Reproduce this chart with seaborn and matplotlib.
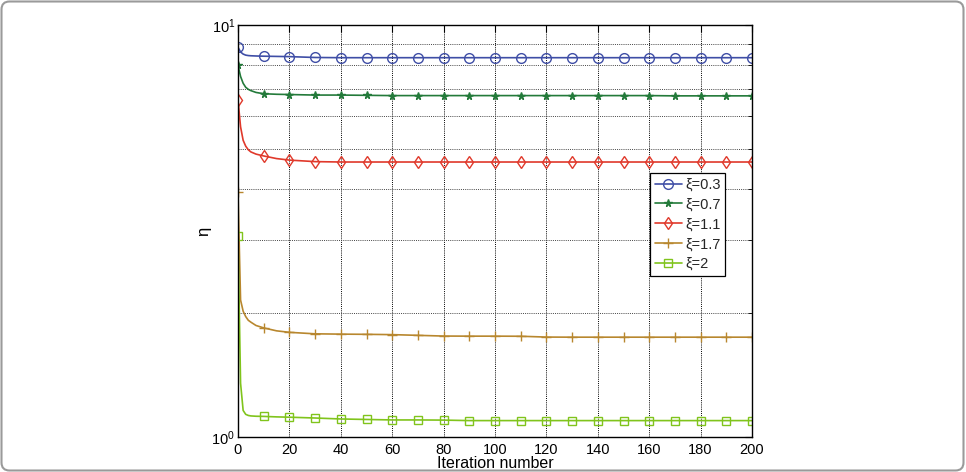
import numpy as np
import pandas as pd
import matplotlib
matplotlib.use("Agg")
import matplotlib.pyplot as plt
import seaborn as sns
from matplotlib.patches import FancyBboxPatch
from matplotlib.transforms import IdentityTransform
from matplotlib.ticker import FixedLocator, LogLocator, NullFormatter

# ---- data ----
iterations = [0, 1, 2, 3, 4, 5, 7, 10, 15, 20, 30, 40, 50, 60, 70, 80, 90, 100,
              110, 120, 130, 140, 150, 160, 170, 180, 190, 200]

eta_xi03 = [8.83, 8.60, 8.50, 8.45, 8.43, 8.42, 8.41, 8.40, 8.39, 8.38, 8.34, 8.33,
            8.33, 8.33, 8.33, 8.33, 8.33, 8.33, 8.33, 8.33, 8.33, 8.33, 8.33, 8.33,
            8.33, 8.33, 8.33, 8.33]
eta_xi07 = [7.98, 7.50, 7.22, 7.06, 6.98, 6.93, 6.86, 6.81, 6.79, 6.78, 6.76, 6.76,
            6.75, 6.74, 6.74, 6.74, 6.74, 6.74, 6.74, 6.74, 6.74, 6.74, 6.74, 6.74,
            6.73, 6.73, 6.73, 6.73]
eta_xi11 = [6.58, 5.66, 5.25, 5.08, 4.98, 4.92, 4.86, 4.81, 4.74, 4.70, 4.66, 4.65,
            4.65, 4.65, 4.65, 4.65, 4.65, 4.65, 4.65, 4.65, 4.65, 4.65, 4.65, 4.65,
            4.65, 4.65, 4.65, 4.65]
eta_xi17 = [3.93, 2.15, 2.02, 1.96, 1.92, 1.90, 1.865, 1.84, 1.81, 1.795, 1.78, 1.777,
            1.775, 1.772, 1.765, 1.758, 1.757, 1.757, 1.756, 1.748, 1.747, 1.747,
            1.747, 1.747, 1.747, 1.747, 1.747, 1.747]
eta_xi2 = [3.07, 1.35, 1.16, 1.135, 1.128, 1.125, 1.123, 1.122, 1.119, 1.117, 1.112,
           1.106, 1.103, 1.100, 1.100, 1.099, 1.096, 1.096, 1.096, 1.096, 1.096, 1.096,
           1.096, 1.096, 1.096, 1.096, 1.096, 1.096]

labels = ["ξ=0.3", "ξ=0.7", "ξ=1.1", "ξ=1.7", "ξ=2"]
series = [eta_xi03, eta_xi07, eta_xi11, eta_xi17, eta_xi2]
x_ticks = [0, 20, 40, 60, 80, 100, 120, 140, 160, 180, 200]

# ---- styles ----
colors = ["#3f4ea6", "#237a3a", "#e0392b", "#b8872e", "#80c41c"]
markers = ["o", "*", "d", "+", "s"]
msizes = [7.0, 5.5, 6.5, 7.5, 6.0]
fills = ["none", "full", "none", "full", "none"]

sns.set_theme(style="white")
plt.rcParams["font.family"] = ["Liberation Sans", "DejaVu Sans"]
plt.rcParams["mathtext.default"] = "regular"

W, H = 966, 472
fig = plt.figure(figsize=(W / 100, H / 100), dpi=100)
ax_l, ax_r, ax_t, ax_b = 238, 752, 25, 437
ax = fig.add_axes([ax_l / W, 1 - ax_b / H, (ax_r - ax_l) / W, (ax_b - ax_t) / H])

mark_idx = [i for i, v in enumerate(iterations) if v % 10 == 0]

for vals, lab, c, m, ms, f in zip(series, labels, colors, markers, msizes, fills):
    df = pd.DataFrame({"iteration": iterations, "eta": vals})
    kw = dict(marker=m, markersize=ms, markevery=mark_idx, markeredgewidth=1.0,
              markeredgecolor=c, linewidth=1.2)
    kw["markerfacecolor"] = "none" if f == "none" else c
    sns.lineplot(data=df, x="iteration", y="eta", ax=ax, color=c, label=lab,
                 estimator=None, sort=False, **kw)

ax.set_yscale("log")
ax.set_xlim(0, 200)
ax.set_ylim(1, 10)
ax.xaxis.set_major_locator(FixedLocator(x_ticks))
ax.yaxis.set_major_locator(LogLocator(base=10))
ax.yaxis.set_minor_locator(LogLocator(base=10, subs=np.arange(2, 10)))
ax.yaxis.set_minor_formatter(NullFormatter())

ax.grid(which="major", axis="both", color="black", linestyle=(0, (1, 1.2)), linewidth=0.7)
ax.grid(which="minor", axis="y", color="#444444", linestyle=(0, (1, 1.2)), linewidth=0.7)

for s in ax.spines.values():
    s.set_color("black")
    s.set_linewidth(1.0)
    s.set_visible(True)

ax.tick_params(which="both", direction="in", top=True, right=True, color="black",
               labelsize=10.5, labelcolor="black")
ax.tick_params(which="major", length=5, width=0.8)
ax.tick_params(which="minor", length=3, width=0.6)
ax.tick_params(axis="x", pad=4)
ax.tick_params(axis="y", pad=2)

ax.set_xlabel("Iteration number", fontsize=11.5, color="black")
ax.set_ylabel("η", fontsize=12, color="black")
ax.xaxis.set_label_coords(0.5, (ax_b - 468.3) / (ax_b - ax_t))
ax.xaxis.label.set_va("baseline")
ax.yaxis.set_label_coords((204 - ax_l) / (ax_r - ax_l), 0.5)
ax.yaxis.label.set_va("center")

leg = ax.legend(loc="upper left",
                bbox_to_anchor=((650 - ax_l) / (ax_r - ax_l), (ax_b - 173) / (ax_b - ax_t)),
                fontsize=10.5, frameon=True, fancybox=False, framealpha=1,
                edgecolor="black", handlelength=1.85, handletextpad=0.25,
                labelspacing=0.4, borderpad=0.32, borderaxespad=0)
leg.get_frame().set_linewidth(0.9)

# figure border (journal frame)
border = FancyBboxPatch((1.5, 1.5), W - 4, H - 3,
                        boxstyle="round,pad=0,rounding_size=8",
                        transform=IdentityTransform(), facecolor="none",
                        edgecolor="#9a9a9a", linewidth=1.5)
fig.patches.append(border)

fig.savefig("out.png", dpi=100)
